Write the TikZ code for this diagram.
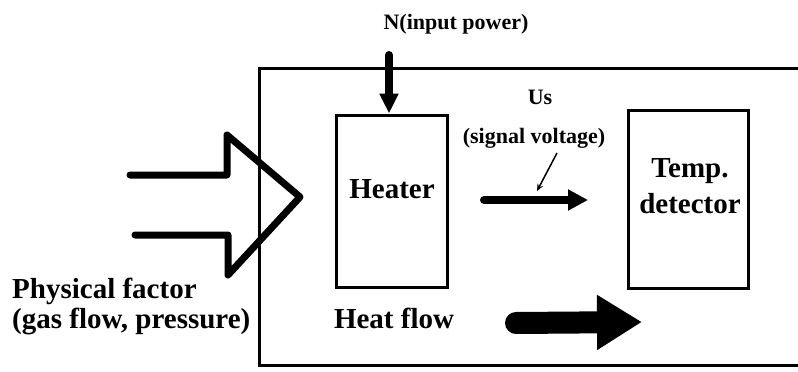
\documentclass[tikz,border=0pt]{standalone}
\usepackage{fontspec}
\setmainfont{Liberation Serif}
\usetikzlibrary{arrows.meta}
\begin{document}
\begin{tikzpicture}[x=1pt,y=-1pt,
  big/.style={font=\fontsize{29}{31}\selectfont\bfseries, inner sep=0pt},
  small/.style={font=\fontsize{22}{25}\selectfont\bfseries, inner sep=0pt},
  blockbox/.style={draw, line width=3pt, inner sep=0pt, minimum width=#1},
  frame/.style={line width=3pt},
  hollow/.style={line width=7pt, line join=round, line cap=round},
]
\useasboundingbox (0,0) rectangle (798,372);

% outer frame (open to the right)
\draw[frame] (798,68) -- (259,68) -- (259,365) -- (798,365);

% blocks
\node[blockbox=111pt, minimum height=172pt] (heater) at (391.5,201) {};
\node[blockbox=120pt, minimum height=178pt] (detector) at (688,199) {};

% texts
\node[big, anchor=base] (heatertxt) at (392,198) {Heater};
\node[font=\fontsize{29}{36}\selectfont\bfseries, inner sep=0pt, align=center, anchor=base] (dettxt) at (690,213) {Temp.\\detector};
\node[small, anchor=base] (ntxt) at (456,29) {N(input power)};
\node[small, anchor=base] (ustxt) at (540,104) {Us};
\node[small, anchor=base] (sigtxt) at (534,143) {(signal voltage)};
\node[big, anchor=base west] (phys) at (12,298) {Physical factor};
\node[big, anchor=base west] (gas) at (12,328) {(gas flow, pressure)};
\node[big, anchor=base] (heattxt) at (394,328) {Heat flow};

% input power arrow
\coordinate (nstart) at (389,55);
\draw[line width=8pt, line cap=round, -{Triangle[length=20pt,width=18pt]}] (nstart) -- (heater.north -| nstart);

% signal arrow
\coordinate (sigA) at (484,200);
\coordinate (sigB) at (588,200);
\draw[line width=8pt, line cap=round, -{Triangle[length=20pt,width=20pt]}] (sigA) -- (sigB);

% pointer from label
\coordinate (pA) at (557,153);
\coordinate (pB) at (537,191);
\draw[line width=1.5pt, -{Stealth[length=7pt,width=6pt]}] (pA) -- (pB);

% heat flow arrow
\coordinate (hA) at (516,323);
\coordinate (hB) at (642,322);
\draw[line width=22pt, line cap=round, -{Triangle[length=45pt,width=52pt]}] (hA) -- (hB);

% hollow input arrow (physical factor)
\draw[hollow] (130,175) -- (227,175) -- (227,135) -- (300,197) -- (228,275) -- (228,235) -- (135,235);
\end{tikzpicture}
\end{document}
